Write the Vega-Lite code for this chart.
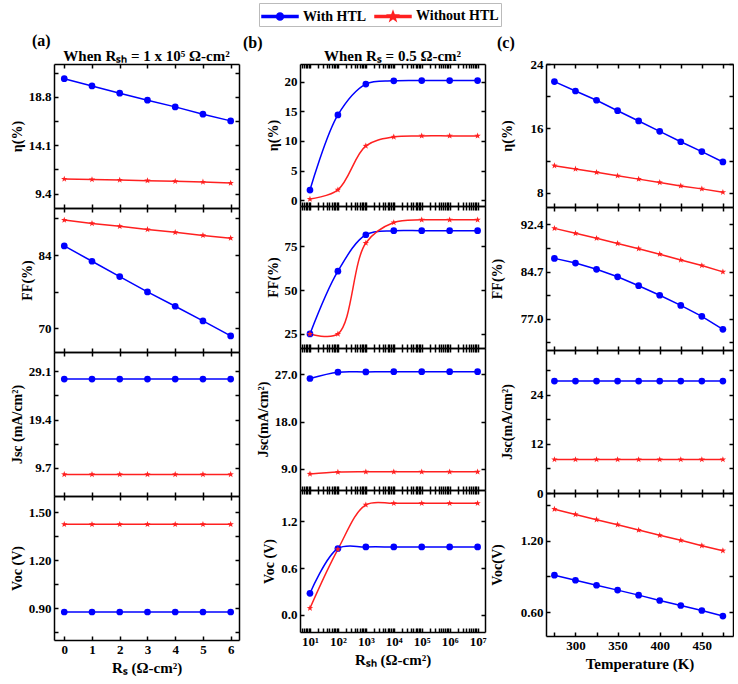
{
"$schema": "https://vega.github.io/schema/vega-lite/v6.json",
"padding": {"left": 10, "right": 0, "top": 2, "bottom": 2},
"spacing": 3,
"datasets": {
"a_eta": [
{"x":0,"y":20.57,"s":"With HTL"},{"x":1,"y":19.87,"s":"With HTL"},{"x":2,"y":19.16,"s":"With HTL"},{"x":3,"y":18.48,"s":"With HTL"},{"x":4,"y":17.83,"s":"With HTL"},{"x":5,"y":17.12,"s":"With HTL"},{"x":6,"y":16.47,"s":"With HTL"},
{"x":0,"y":10.82,"s":"Without HTL"},{"x":1,"y":10.77,"s":"Without HTL"},{"x":2,"y":10.72,"s":"Without HTL"},{"x":3,"y":10.66,"s":"Without HTL"},{"x":4,"y":10.6,"s":"Without HTL"},{"x":5,"y":10.53,"s":"Without HTL"},{"x":6,"y":10.42,"s":"Without HTL"}],
"a_ff": [
{"x":0,"y":85.76,"s":"With HTL"},{"x":1,"y":82.83,"s":"With HTL"},{"x":2,"y":79.9,"s":"With HTL"},{"x":3,"y":76.97,"s":"With HTL"},{"x":4,"y":74.24,"s":"With HTL"},{"x":5,"y":71.43,"s":"With HTL"},{"x":6,"y":68.57,"s":"With HTL"},
{"x":0,"y":90.7,"s":"Without HTL"},{"x":1,"y":90.05,"s":"Without HTL"},{"x":2,"y":89.5,"s":"Without HTL"},{"x":3,"y":88.9,"s":"Without HTL"},{"x":4,"y":88.35,"s":"Without HTL"},{"x":5,"y":87.77,"s":"Without HTL"},{"x":6,"y":87.24,"s":"Without HTL"}],
"a_jsc": [
{"x":0,"y":27.55,"s":"With HTL"},{"x":1,"y":27.55,"s":"With HTL"},{"x":2,"y":27.55,"s":"With HTL"},{"x":3,"y":27.55,"s":"With HTL"},{"x":4,"y":27.55,"s":"With HTL"},{"x":5,"y":27.55,"s":"With HTL"},{"x":6,"y":27.55,"s":"With HTL"},
{"x":0,"y":8.34,"s":"Without HTL"},{"x":1,"y":8.34,"s":"Without HTL"},{"x":2,"y":8.34,"s":"Without HTL"},{"x":3,"y":8.34,"s":"Without HTL"},{"x":4,"y":8.34,"s":"Without HTL"},{"x":5,"y":8.34,"s":"Without HTL"},{"x":6,"y":8.34,"s":"Without HTL"}],
"a_voc": [
{"x":0,"y":0.875,"s":"With HTL"},{"x":1,"y":0.875,"s":"With HTL"},{"x":2,"y":0.875,"s":"With HTL"},{"x":3,"y":0.875,"s":"With HTL"},{"x":4,"y":0.875,"s":"With HTL"},{"x":5,"y":0.875,"s":"With HTL"},{"x":6,"y":0.875,"s":"With HTL"},
{"x":0,"y":1.423,"s":"Without HTL"},{"x":1,"y":1.423,"s":"Without HTL"},{"x":2,"y":1.423,"s":"Without HTL"},{"x":3,"y":1.423,"s":"Without HTL"},{"x":4,"y":1.423,"s":"Without HTL"},{"x":5,"y":1.423,"s":"Without HTL"},{"x":6,"y":1.423,"s":"Without HTL"}],
"b_eta": [
{"x":10,"y":1.69,"s":"With HTL"},{"x":100,"y":14.4,"s":"With HTL"},{"x":1000,"y":19.6,"s":"With HTL"},{"x":10000,"y":20.15,"s":"With HTL"},{"x":100000,"y":20.2,"s":"With HTL"},{"x":1000000,"y":20.2,"s":"With HTL"},{"x":10000000,"y":20.2,"s":"With HTL"},
{"x":10,"y":0.17,"s":"Without HTL"},{"x":100,"y":1.74,"s":"Without HTL"},{"x":1000,"y":9.15,"s":"Without HTL"},{"x":10000,"y":10.67,"s":"Without HTL"},{"x":100000,"y":10.85,"s":"Without HTL"},{"x":1000000,"y":10.85,"s":"Without HTL"},{"x":10000000,"y":10.85,"s":"Without HTL"}],
"b_ff": [
{"x":10,"y":25,"s":"With HTL"},{"x":100,"y":60.8,"s":"With HTL"},{"x":1000,"y":81.6,"s":"With HTL"},{"x":10000,"y":83.9,"s":"With HTL"},{"x":100000,"y":83.9,"s":"With HTL"},{"x":1000000,"y":83.9,"s":"With HTL"},{"x":10000000,"y":83.9,"s":"With HTL"},
{"x":10,"y":25,"s":"Without HTL"},{"x":100,"y":25,"s":"Without HTL"},{"x":1000,"y":76.9,"s":"Without HTL"},{"x":10000,"y":88.6,"s":"Without HTL"},{"x":100000,"y":90.1,"s":"Without HTL"},{"x":1000000,"y":90.1,"s":"Without HTL"},{"x":10000000,"y":90.1,"s":"Without HTL"}],
"b_jsc": [
{"x":10,"y":26.2,"s":"With HTL"},{"x":100,"y":27.4,"s":"With HTL"},{"x":1000,"y":27.45,"s":"With HTL"},{"x":10000,"y":27.5,"s":"With HTL"},{"x":100000,"y":27.5,"s":"With HTL"},{"x":1000000,"y":27.5,"s":"With HTL"},{"x":10000000,"y":27.5,"s":"With HTL"},
{"x":10,"y":8.05,"s":"Without HTL"},{"x":100,"y":8.4,"s":"Without HTL"},{"x":1000,"y":8.45,"s":"Without HTL"},{"x":10000,"y":8.45,"s":"Without HTL"},{"x":100000,"y":8.45,"s":"Without HTL"},{"x":1000000,"y":8.45,"s":"Without HTL"},{"x":10000000,"y":8.45,"s":"Without HTL"}],
"b_voc": [
{"x":10,"y":0.276,"s":"With HTL"},{"x":100,"y":0.85,"s":"With HTL"},{"x":1000,"y":0.87,"s":"With HTL"},{"x":10000,"y":0.87,"s":"With HTL"},{"x":100000,"y":0.87,"s":"With HTL"},{"x":1000000,"y":0.87,"s":"With HTL"},{"x":10000000,"y":0.87,"s":"With HTL"},
{"x":10,"y":0.085,"s":"Without HTL"},{"x":100,"y":0.84,"s":"Without HTL"},{"x":1000,"y":1.41,"s":"Without HTL"},{"x":10000,"y":1.43,"s":"Without HTL"},{"x":100000,"y":1.43,"s":"Without HTL"},{"x":1000000,"y":1.43,"s":"Without HTL"},{"x":10000000,"y":1.43,"s":"Without HTL"}],
"c_eta": [
{"x":275,"y":21.82,"s":"With HTL"},{"x":300,"y":20.65,"s":"With HTL"},{"x":325,"y":19.5,"s":"With HTL"},{"x":350,"y":18.2,"s":"With HTL"},{"x":375,"y":16.93,"s":"With HTL"},{"x":400,"y":15.64,"s":"With HTL"},{"x":425,"y":14.35,"s":"With HTL"},{"x":450,"y":13.13,"s":"With HTL"},{"x":475,"y":11.84,"s":"With HTL"},
{"x":275,"y":11.38,"s":"Without HTL"},{"x":300,"y":10.97,"s":"Without HTL"},{"x":325,"y":10.55,"s":"Without HTL"},{"x":350,"y":10.13,"s":"Without HTL"},{"x":375,"y":9.71,"s":"Without HTL"},{"x":400,"y":9.3,"s":"Without HTL"},{"x":425,"y":8.87,"s":"Without HTL"},{"x":450,"y":8.5,"s":"Without HTL"},{"x":475,"y":8.08,"s":"Without HTL"}],
"c_ff": [
{"x":275,"y":86.86,"s":"With HTL"},{"x":300,"y":86.1,"s":"With HTL"},{"x":325,"y":85.08,"s":"With HTL"},{"x":350,"y":83.85,"s":"With HTL"},{"x":375,"y":82.4,"s":"With HTL"},{"x":400,"y":80.84,"s":"With HTL"},{"x":425,"y":79.18,"s":"With HTL"},{"x":450,"y":77.4,"s":"With HTL"},{"x":475,"y":75.27,"s":"With HTL"},
{"x":275,"y":91.76,"s":"Without HTL"},{"x":300,"y":90.95,"s":"Without HTL"},{"x":325,"y":90.15,"s":"Without HTL"},{"x":350,"y":89.3,"s":"Without HTL"},{"x":375,"y":88.44,"s":"Without HTL"},{"x":400,"y":87.55,"s":"Without HTL"},{"x":425,"y":86.6,"s":"Without HTL"},{"x":450,"y":85.7,"s":"Without HTL"},{"x":475,"y":84.66,"s":"Without HTL"}],
"c_jsc": [
{"x":275,"y":27.4,"s":"With HTL"},{"x":300,"y":27.4,"s":"With HTL"},{"x":325,"y":27.4,"s":"With HTL"},{"x":350,"y":27.4,"s":"With HTL"},{"x":375,"y":27.4,"s":"With HTL"},{"x":400,"y":27.4,"s":"With HTL"},{"x":425,"y":27.4,"s":"With HTL"},{"x":450,"y":27.4,"s":"With HTL"},{"x":475,"y":27.4,"s":"With HTL"},
{"x":275,"y":8.2,"s":"Without HTL"},{"x":300,"y":8.2,"s":"Without HTL"},{"x":325,"y":8.2,"s":"Without HTL"},{"x":350,"y":8.2,"s":"Without HTL"},{"x":375,"y":8.2,"s":"Without HTL"},{"x":400,"y":8.2,"s":"Without HTL"},{"x":425,"y":8.2,"s":"Without HTL"},{"x":450,"y":8.2,"s":"Without HTL"},{"x":475,"y":8.2,"s":"Without HTL"}],
"c_voc": [
{"x":275,"y":0.91,"s":"With HTL"},{"x":300,"y":0.868,"s":"With HTL"},{"x":325,"y":0.826,"s":"With HTL"},{"x":350,"y":0.785,"s":"With HTL"},{"x":375,"y":0.743,"s":"With HTL"},{"x":400,"y":0.698,"s":"With HTL"},{"x":425,"y":0.656,"s":"With HTL"},{"x":450,"y":0.614,"s":"With HTL"},{"x":475,"y":0.567,"s":"With HTL"},
{"x":275,"y":1.464,"s":"Without HTL"},{"x":300,"y":1.42,"s":"Without HTL"},{"x":325,"y":1.376,"s":"Without HTL"},{"x":350,"y":1.334,"s":"Without HTL"},{"x":375,"y":1.289,"s":"Without HTL"},{"x":400,"y":1.245,"s":"Without HTL"},{"x":425,"y":1.203,"s":"Without HTL"},{"x":450,"y":1.158,"s":"Without HTL"},{"x":475,"y":1.116,"s":"Without HTL"}]
},
"hconcat": [
{
"title": {"text": "(a)", "anchor": "start", "frame": "group", "dx": -22, "fontSize": 16, "offset": 0},
"bounds": "flush", "spacing": 0,
"vconcat": [
{"width": 185, "height": 144, "data": {"name": "a_eta"},
 "title": {"text": "When Rₛₕ = 1 x 10⁵ Ω-cm²", "fontSize": 15, "offset": -1},
 "layer": [
  {"mark": {"type": "line"}, "encoding": {
    "x": {"field": "x", "type": "quantitative", "scale": {"domain": [-0.37, 6.3], "nice": false, "zero": false}, "axis": {"orient": "bottom", "values": [0,1,2,3,4,5,6], "labels": false, "title": null}},
    "y": {"field": "y", "type": "quantitative", "scale": {"domain": [8.0, 22.0], "nice": false, "zero": false}, "axis": {"orient": "left", "values": [9.4,11.75,14.1,16.45,18.8,21.15], "labelExpr": "indexof([9.4,14.1,18.8], datum.value) >= 0 ? format(datum.value, '.1f') : ''", "title": "η(%)"}},
    "color": {"field": "s", "type": "nominal", "scale": {"domain": ["With HTL", "Without HTL"], "range": ["#0000ff", "#ff2020"]},
      "legend": {"title": null, "orient": "none", "direction": "horizontal", "legendX": 205, "legendY": -61}}}},
  {"mark": {"type": "point"}, "encoding": {
    "x": {"field": "x", "type": "quantitative", "axis": {"orient": "top", "values": [0,1,2,3,4,5,6], "labels": false, "title": null}},
    "y": {"field": "y", "type": "quantitative", "axis": {"orient": "right", "values": [9.4,11.75,14.1,16.45,18.8,21.15], "labels": false, "title": null}},
    "color": {"field": "s", "type": "nominal"},
    "shape": {"condition": {"test": "datum.s === 'Without HTL'", "value": "M0,-1L0.235,-0.324L0.951,-0.309L0.38,0.124L0.588,0.809L0,0.4L-0.588,0.809L-0.38,0.124L-0.951,-0.309L-0.235,-0.324Z"}, "value": "circle"}}},
  {"mark": {"type": "point", "opacity": 0}, "encoding": {
    "x": {"field": "x", "type": "quantitative", "axis": null},
    "y": {"field": "y", "type": "quantitative", "axis": null},
    "color": {"field": "s", "type": "nominal"},
    "shape": {"field": "s", "type": "nominal", "scale": {"domain": ["With HTL", "Without HTL"], "range": ["M-1.8,-0.11H1.8V0.11H-1.8ZM0.35,0A0.35,0.35,0,1,1,-0.35,0A0.35,0.35,0,1,1,0.35,0Z", "M-1.8,-0.11H1.8V0.11H-1.8ZM0,-0.5L0.118,-0.162L0.476,-0.155L0.19,0.062L0.294,0.405L0,0.2L-0.294,0.405L-0.19,0.062L-0.476,-0.155L-0.118,-0.162Z"]}}}}
 ],
 "resolve": {"axis": {"x": "independent", "y": "independent"}}
},
{"width": 185, "height": 144, "data": {"name": "a_ff"},
 "layer": [
  {"mark": {"type": "line"}, "encoding": {
    "x": {"field": "x", "type": "quantitative", "scale": {"domain": [-0.37, 6.3], "nice": false, "zero": false}, "axis": {"orient": "bottom", "values": [0,1,2,3,4,5,6], "labels": false, "title": null}},
    "y": {"field": "y", "type": "quantitative", "scale": {"domain": [65.5, 93], "nice": false, "zero": false}, "axis": {"orient": "left", "values": [70,77,84,91], "labelExpr": "indexof([70,84], datum.value) >= 0 ? format(datum.value, 'd') : ''", "title": "FF(%)"}},
    "color": {"field": "s", "type": "nominal"}}},
  {"mark": {"type": "point"}, "encoding": {
    "x": {"field": "x", "type": "quantitative", "axis": {"orient": "top", "values": [0,1,2,3,4,5,6], "labels": false, "title": null}},
    "y": {"field": "y", "type": "quantitative", "axis": {"orient": "right", "values": [70,77,84,91], "labels": false, "title": null}},
    "color": {"field": "s", "type": "nominal"},
    "shape": {"condition": {"test": "datum.s === 'Without HTL'", "value": "M0,-1L0.235,-0.324L0.951,-0.309L0.38,0.124L0.588,0.809L0,0.4L-0.588,0.809L-0.38,0.124L-0.951,-0.309L-0.235,-0.324Z"}, "value": "circle"}}}
 ],
 "resolve": {"axis": {"x": "independent", "y": "independent"}}
},
{"width": 185, "height": 144, "data": {"name": "a_jsc"},
 "layer": [
  {"mark": {"type": "line"}, "encoding": {
    "x": {"field": "x", "type": "quantitative", "scale": {"domain": [-0.37, 6.3], "nice": false, "zero": false}, "axis": {"orient": "bottom", "values": [0,1,2,3,4,5,6], "labels": false, "title": null}},
    "y": {"field": "y", "type": "quantitative", "scale": {"domain": [4.0, 33.0], "nice": false, "zero": false}, "axis": {"orient": "left", "values": [9.7,14.55,19.4,24.25,29.1], "labelExpr": "indexof([9.7,19.4,29.1], datum.value) >= 0 ? format(datum.value, '.1f') : ''", "title": "Jsc (mA/cm²)"}},
    "color": {"field": "s", "type": "nominal"}}},
  {"mark": {"type": "point"}, "encoding": {
    "x": {"field": "x", "type": "quantitative", "axis": {"orient": "top", "values": [0,1,2,3,4,5,6], "labels": false, "title": null}},
    "y": {"field": "y", "type": "quantitative", "axis": {"orient": "right", "values": [9.7,14.55,19.4,24.25,29.1], "labels": false, "title": null}},
    "color": {"field": "s", "type": "nominal"},
    "shape": {"condition": {"test": "datum.s === 'Without HTL'", "value": "M0,-1L0.235,-0.324L0.951,-0.309L0.38,0.124L0.588,0.809L0,0.4L-0.588,0.809L-0.38,0.124L-0.951,-0.309L-0.235,-0.324Z"}, "value": "circle"}}}
 ],
 "resolve": {"axis": {"x": "independent", "y": "independent"}}
},
{"width": 185, "height": 144, "data": {"name": "a_voc"},
 "layer": [
  {"mark": {"type": "line"}, "encoding": {
    "x": {"field": "x", "type": "quantitative", "scale": {"domain": [-0.37, 6.3], "nice": false, "zero": false}, "axis": {"orient": "bottom", "values": [0,1,2,3,4,5,6], "format": "d", "title": "Rₛ (Ω-cm²)", "titleFontSize": 15}},
    "y": {"field": "y", "type": "quantitative", "scale": {"domain": [0.7, 1.6], "nice": false, "zero": false}, "axis": {"orient": "left", "values": [0.75,0.9,1.05,1.2,1.35,1.5], "labelExpr": "indexof([0.9,1.2,1.5], datum.value) >= 0 ? format(datum.value, '.2f') : ''", "title": "Voc (V)"}},
    "color": {"field": "s", "type": "nominal"}}},
  {"mark": {"type": "point"}, "encoding": {
    "x": {"field": "x", "type": "quantitative", "axis": {"orient": "top", "values": [0,1,2,3,4,5,6], "labels": false, "title": null}},
    "y": {"field": "y", "type": "quantitative", "axis": {"orient": "right", "values": [0.75,0.9,1.05,1.2,1.35,1.5], "labels": false, "title": null}},
    "color": {"field": "s", "type": "nominal"},
    "shape": {"condition": {"test": "datum.s === 'Without HTL'", "value": "M0,-1L0.235,-0.324L0.951,-0.309L0.38,0.124L0.588,0.809L0,0.4L-0.588,0.809L-0.38,0.124L-0.951,-0.309L-0.235,-0.324Z"}, "value": "circle"}}}
 ],
 "resolve": {"axis": {"x": "independent", "y": "independent"}}
}
]
},
{
"title": {"text": "(b)", "anchor": "start", "frame": "group", "dx": -57, "fontSize": 16, "offset": -2},
"bounds": "flush", "spacing": 0,
"vconcat": [
{"width": 185, "height": 142, "data": {"name": "b_eta"},
 "title": {"text": "When Rₛ = 0.5 Ω-cm²", "fontSize": 15, "offset": -1},
 "layer": [
  {"mark": {"type": "line", "interpolate": "catmull-rom"}, "encoding": {
    "x": {"field": "x", "type": "quantitative", "scale": {"type": "log", "domain": [4.4, 18400000], "nice": false}, "axis": {"orient": "bottom", "values": [5,6,7,8,9,10,20,30,40,50,60,70,80,90,100,200,300,400,500,600,700,800,900,1000,2000,3000,4000,5000,6000,7000,8000,9000,10000,20000,30000,40000,50000,60000,70000,80000,90000,100000,200000,300000,400000,500000,600000,700000,800000,900000,1000000,2000000,3000000,4000000,5000000,6000000,7000000,8000000,9000000,10000000], "labels": false, "title": null}},
    "y": {"field": "y", "type": "quantitative", "scale": {"domain": [-1, 23], "nice": false, "zero": false}, "axis": {"orient": "left", "values": [0,5,10,15,20], "format": "d", "title": "η(%)"}},
    "color": {"field": "s", "type": "nominal"}}},
  {"mark": {"type": "point"}, "encoding": {
    "x": {"field": "x", "type": "quantitative", "axis": {"orient": "top", "values": [5,6,7,8,9,10,20,30,40,50,60,70,80,90,100,200,300,400,500,600,700,800,900,1000,2000,3000,4000,5000,6000,7000,8000,9000,10000,20000,30000,40000,50000,60000,70000,80000,90000,100000,200000,300000,400000,500000,600000,700000,800000,900000,1000000,2000000,3000000,4000000,5000000,6000000,7000000,8000000,9000000,10000000], "labels": false, "title": null}},
    "y": {"field": "y", "type": "quantitative", "axis": {"orient": "right", "values": [0,5,10,15,20], "labels": false, "title": null}},
    "color": {"field": "s", "type": "nominal"},
    "shape": {"condition": {"test": "datum.s === 'Without HTL'", "value": "M0,-1L0.235,-0.324L0.951,-0.309L0.38,0.124L0.588,0.809L0,0.4L-0.588,0.809L-0.38,0.124L-0.951,-0.309L-0.235,-0.324Z"}, "value": "circle"}}}
 ],
 "resolve": {"axis": {"x": "independent", "y": "independent"}}
},
{"width": 185, "height": 142, "data": {"name": "b_ff"},
 "layer": [
  {"mark": {"type": "line", "interpolate": "catmull-rom"}, "encoding": {
    "x": {"field": "x", "type": "quantitative", "scale": {"type": "log", "domain": [4.4, 18400000], "nice": false}, "axis": {"orient": "bottom", "values": [5,6,7,8,9,10,20,30,40,50,60,70,80,90,100,200,300,400,500,600,700,800,900,1000,2000,3000,4000,5000,6000,7000,8000,9000,10000,20000,30000,40000,50000,60000,70000,80000,90000,100000,200000,300000,400000,500000,600000,700000,800000,900000,1000000,2000000,3000000,4000000,5000000,6000000,7000000,8000000,9000000,10000000], "labels": false, "title": null}},
    "y": {"field": "y", "type": "quantitative", "scale": {"domain": [17, 98], "nice": false, "zero": false}, "axis": {"orient": "left", "values": [25,50,75], "format": "d", "title": "FF(%)"}},
    "color": {"field": "s", "type": "nominal"}}},
  {"mark": {"type": "point"}, "encoding": {
    "x": {"field": "x", "type": "quantitative", "axis": {"orient": "top", "values": [5,6,7,8,9,10,20,30,40,50,60,70,80,90,100,200,300,400,500,600,700,800,900,1000,2000,3000,4000,5000,6000,7000,8000,9000,10000,20000,30000,40000,50000,60000,70000,80000,90000,100000,200000,300000,400000,500000,600000,700000,800000,900000,1000000,2000000,3000000,4000000,5000000,6000000,7000000,8000000,9000000,10000000], "labels": false, "title": null}},
    "y": {"field": "y", "type": "quantitative", "axis": {"orient": "right", "values": [25,50,75], "labels": false, "title": null}},
    "color": {"field": "s", "type": "nominal"},
    "shape": {"condition": {"test": "datum.s === 'Without HTL'", "value": "M0,-1L0.235,-0.324L0.951,-0.309L0.38,0.124L0.588,0.809L0,0.4L-0.588,0.809L-0.38,0.124L-0.951,-0.309L-0.235,-0.324Z"}, "value": "circle"}}}
 ],
 "resolve": {"axis": {"x": "independent", "y": "independent"}}
},
{"width": 185, "height": 142, "data": {"name": "b_jsc"},
 "layer": [
  {"mark": {"type": "line", "interpolate": "catmull-rom"}, "encoding": {
    "x": {"field": "x", "type": "quantitative", "scale": {"type": "log", "domain": [4.4, 18400000], "nice": false}, "axis": {"orient": "bottom", "values": [5,6,7,8,9,10,20,30,40,50,60,70,80,90,100,200,300,400,500,600,700,800,900,1000,2000,3000,4000,5000,6000,7000,8000,9000,10000,20000,30000,40000,50000,60000,70000,80000,90000,100000,200000,300000,400000,500000,600000,700000,800000,900000,1000000,2000000,3000000,4000000,5000000,6000000,7000000,8000000,9000000,10000000], "labels": false, "title": null}},
    "y": {"field": "y", "type": "quantitative", "scale": {"domain": [5, 32], "nice": false, "zero": false}, "axis": {"orient": "left", "values": [9,18,27], "format": ".1f", "title": "Jsc(mA/cm²)"}},
    "color": {"field": "s", "type": "nominal"}}},
  {"mark": {"type": "point"}, "encoding": {
    "x": {"field": "x", "type": "quantitative", "axis": {"orient": "top", "values": [5,6,7,8,9,10,20,30,40,50,60,70,80,90,100,200,300,400,500,600,700,800,900,1000,2000,3000,4000,5000,6000,7000,8000,9000,10000,20000,30000,40000,50000,60000,70000,80000,90000,100000,200000,300000,400000,500000,600000,700000,800000,900000,1000000,2000000,3000000,4000000,5000000,6000000,7000000,8000000,9000000,10000000], "labels": false, "title": null}},
    "y": {"field": "y", "type": "quantitative", "axis": {"orient": "right", "values": [9,18,27], "labels": false, "title": null}},
    "color": {"field": "s", "type": "nominal"},
    "shape": {"condition": {"test": "datum.s === 'Without HTL'", "value": "M0,-1L0.235,-0.324L0.951,-0.309L0.38,0.124L0.588,0.809L0,0.4L-0.588,0.809L-0.38,0.124L-0.951,-0.309L-0.235,-0.324Z"}, "value": "circle"}}}
 ],
 "resolve": {"axis": {"x": "independent", "y": "independent"}}
},
{"width": 185, "height": 142, "data": {"name": "b_voc"},
 "layer": [
  {"mark": {"type": "line", "interpolate": "catmull-rom"}, "encoding": {
    "x": {"field": "x", "type": "quantitative", "scale": {"type": "log", "domain": [4.4, 18400000], "nice": false}, "axis": {"orient": "bottom", "values": [5,6,7,8,9,10,20,30,40,50,60,70,80,90,100,200,300,400,500,600,700,800,900,1000,2000,3000,4000,5000,6000,7000,8000,9000,10000,20000,30000,40000,50000,60000,70000,80000,90000,100000,200000,300000,400000,500000,600000,700000,800000,900000,1000000,2000000,3000000,4000000,5000000,6000000,7000000,8000000,9000000,10000000], "labelExpr": "abs(log(datum.value)/LN10 - round(log(datum.value)/LN10)) < 0.001 ? '10' + ['⁰','¹','²','³','⁴','⁵','⁶','⁷','⁸'][round(log(datum.value)/LN10)] : ''", "title": "Rₛₕ (Ω-cm²)", "titleFontSize": 15}},
    "y": {"field": "y", "type": "quantitative", "scale": {"domain": [-0.22, 1.6], "nice": false, "zero": false}, "axis": {"orient": "left", "values": [0,0.6,1.2], "format": ".1f", "title": "Voc (V)"}},
    "color": {"field": "s", "type": "nominal"}}},
  {"mark": {"type": "point"}, "encoding": {
    "x": {"field": "x", "type": "quantitative", "axis": {"orient": "top", "values": [5,6,7,8,9,10,20,30,40,50,60,70,80,90,100,200,300,400,500,600,700,800,900,1000,2000,3000,4000,5000,6000,7000,8000,9000,10000,20000,30000,40000,50000,60000,70000,80000,90000,100000,200000,300000,400000,500000,600000,700000,800000,900000,1000000,2000000,3000000,4000000,5000000,6000000,7000000,8000000,9000000,10000000], "labels": false, "title": null}},
    "y": {"field": "y", "type": "quantitative", "axis": {"orient": "right", "values": [0,0.6,1.2], "labels": false, "title": null}},
    "color": {"field": "s", "type": "nominal"},
    "shape": {"condition": {"test": "datum.s === 'Without HTL'", "value": "M0,-1L0.235,-0.324L0.951,-0.309L0.38,0.124L0.588,0.809L0,0.4L-0.588,0.809L-0.38,0.124L-0.951,-0.309L-0.235,-0.324Z"}, "value": "circle"}}}
 ],
 "resolve": {"axis": {"x": "independent", "y": "independent"}}
}
]
},
{
"title": {"text": "(c)", "anchor": "start", "frame": "group", "dx": -49, "fontSize": 16, "offset": 7},
"bounds": "flush", "spacing": 0,
"vconcat": [
{"width": 187, "height": 143, "data": {"name": "c_eta"},
 "layer": [
  {"mark": {"type": "line"}, "encoding": {
    "x": {"field": "x", "type": "quantitative", "scale": {"domain": [265, 487], "nice": false, "zero": false}, "axis": {"orient": "bottom", "values": [275,300,325,350,375,400,425,450,475], "labels": false, "title": null}},
    "y": {"field": "y", "type": "quantitative", "scale": {"domain": [6.25, 24], "nice": false, "zero": false}, "axis": {"orient": "left", "values": [8,12,16,20,24], "labelExpr": "indexof([8,16,24], datum.value) >= 0 ? format(datum.value, 'd') : ''", "title": "η(%)", "titlePadding": 16}},
    "color": {"field": "s", "type": "nominal"}}},
  {"mark": {"type": "point"}, "encoding": {
    "x": {"field": "x", "type": "quantitative", "axis": {"orient": "top", "values": [275,300,325,350,375,400,425,450,475], "labels": false, "title": null}},
    "y": {"field": "y", "type": "quantitative", "axis": {"orient": "right", "values": [8,12,16,20,24], "labels": false, "title": null}},
    "color": {"field": "s", "type": "nominal"},
    "shape": {"condition": {"test": "datum.s === 'Without HTL'", "value": "M0,-1L0.235,-0.324L0.951,-0.309L0.38,0.124L0.588,0.809L0,0.4L-0.588,0.809L-0.38,0.124L-0.951,-0.309L-0.235,-0.324Z"}, "value": "circle"}}}
 ],
 "resolve": {"axis": {"x": "independent", "y": "independent"}}
},
{"width": 187, "height": 143, "data": {"name": "c_ff"},
 "layer": [
  {"mark": {"type": "line"}, "encoding": {
    "x": {"field": "x", "type": "quantitative", "scale": {"domain": [265, 487], "nice": false, "zero": false}, "axis": {"orient": "bottom", "values": [275,300,325,350,375,400,425,450,475], "labels": false, "title": null}},
    "y": {"field": "y", "type": "quantitative", "scale": {"domain": [71.9, 95.25], "nice": false, "zero": false}, "axis": {"orient": "left", "values": [73.15,77,80.85,84.7,88.55,92.4], "labelExpr": "indexof([77,84.7,92.4], datum.value) >= 0 ? format(datum.value, '.1f') : ''", "title": "FF(%)", "titlePadding": 16}},
    "color": {"field": "s", "type": "nominal"}}},
  {"mark": {"type": "point"}, "encoding": {
    "x": {"field": "x", "type": "quantitative", "axis": {"orient": "top", "values": [275,300,325,350,375,400,425,450,475], "labels": false, "title": null}},
    "y": {"field": "y", "type": "quantitative", "axis": {"orient": "right", "values": [73.15,77,80.85,84.7,88.55,92.4], "labels": false, "title": null}},
    "color": {"field": "s", "type": "nominal"},
    "shape": {"condition": {"test": "datum.s === 'Without HTL'", "value": "M0,-1L0.235,-0.324L0.951,-0.309L0.38,0.124L0.588,0.809L0,0.4L-0.588,0.809L-0.38,0.124L-0.951,-0.309L-0.235,-0.324Z"}, "value": "circle"}}}
 ],
 "resolve": {"axis": {"x": "independent", "y": "independent"}}
},
{"width": 187, "height": 143, "data": {"name": "c_jsc"},
 "layer": [
  {"mark": {"type": "line"}, "encoding": {
    "x": {"field": "x", "type": "quantitative", "scale": {"domain": [265, 487], "nice": false, "zero": false}, "axis": {"orient": "bottom", "values": [275,300,325,350,375,400,425,450,475], "labels": false, "title": null}},
    "y": {"field": "y", "type": "quantitative", "scale": {"domain": [0, 35], "nice": false, "zero": false}, "axis": {"orient": "left", "values": [0,6,12,18,24,30], "labelExpr": "indexof([0,12,24], datum.value) >= 0 ? format(datum.value, 'd') : ''", "title": "Jsc(mA/cm²)", "titlePadding": 16}},
    "color": {"field": "s", "type": "nominal"}}},
  {"mark": {"type": "point"}, "encoding": {
    "x": {"field": "x", "type": "quantitative", "axis": {"orient": "top", "values": [275,300,325,350,375,400,425,450,475], "labels": false, "title": null}},
    "y": {"field": "y", "type": "quantitative", "axis": {"orient": "right", "values": [0,6,12,18,24,30], "labels": false, "title": null}},
    "color": {"field": "s", "type": "nominal"},
    "shape": {"condition": {"test": "datum.s === 'Without HTL'", "value": "M0,-1L0.235,-0.324L0.951,-0.309L0.38,0.124L0.588,0.809L0,0.4L-0.588,0.809L-0.38,0.124L-0.951,-0.309L-0.235,-0.324Z"}, "value": "circle"}}}
 ],
 "resolve": {"axis": {"x": "independent", "y": "independent"}}
},
{"width": 187, "height": 143, "data": {"name": "c_voc"},
 "layer": [
  {"mark": {"type": "line"}, "encoding": {
    "x": {"field": "x", "type": "quantitative", "scale": {"domain": [265, 487], "nice": false, "zero": false}, "axis": {"orient": "bottom", "values": [275,300,325,350,375,400,425,450,475], "labelExpr": "datum.value % 50 === 0 ? format(datum.value, 'd') : ''", "title": "Temperature (K)", "titleFontSize": 15}},
    "y": {"field": "y", "type": "quantitative", "scale": {"domain": [0.4, 1.6], "nice": false, "zero": false}, "axis": {"orient": "left", "values": [0.6,0.9,1.2,1.5], "labelExpr": "indexof([0.6,1.2], datum.value) >= 0 ? format(datum.value, '.2f') : ''", "title": "Voc(V)", "titlePadding": 16}},
    "color": {"field": "s", "type": "nominal"}}},
  {"mark": {"type": "point"}, "encoding": {
    "x": {"field": "x", "type": "quantitative", "axis": {"orient": "top", "values": [275,300,325,350,375,400,425,450,475], "labels": false, "title": null}},
    "y": {"field": "y", "type": "quantitative", "axis": {"orient": "right", "values": [0.6,0.9,1.2,1.5], "labels": false, "title": null}},
    "color": {"field": "s", "type": "nominal"},
    "shape": {"condition": {"test": "datum.s === 'Without HTL'", "value": "M0,-1L0.235,-0.324L0.951,-0.309L0.38,0.124L0.588,0.809L0,0.4L-0.588,0.809L-0.38,0.124L-0.951,-0.309L-0.235,-0.324Z"}, "value": "circle"}}}
 ],
 "resolve": {"axis": {"x": "independent", "y": "independent"}}
}
]
}
],
"config": {
 "font": "Liberation Serif",
 "view": {"stroke": null},
 "axis": {"grid": false, "domainColor": "#000", "domainWidth": 1.5, "tickColor": "#000", "tickWidth": 1.5, "tickSize": -4, "labelPadding": 7, "labelFont": "Liberation Serif", "labelFontSize": 13, "labelFontWeight": "bold", "labelColor": "#000", "titleFont": "Liberation Serif", "titleFontSize": 14, "titleFontWeight": "bold", "titleColor": "#000", "titlePadding": 4, "labelOverlap": false, "labelFlush": false},
 "title": {"font": "Liberation Serif", "fontWeight": "bold", "color": "#000"},
 "legend": {"strokeColor": "#bbbbbb", "padding": 2, "labelFont": "Liberation Serif", "labelFontSize": 14, "labelFontWeight": "bold", "labelColor": "#000", "symbolSize": 400, "symbolStrokeWidth": 0, "symbolOpacity": 1, "symbolOffset": 8, "columnPadding": 5, "labelOffset": 12},
 "line": {"strokeWidth": 1.5},
 "point": {"filled": true, "size": 45, "opacity": 1}
}
}
